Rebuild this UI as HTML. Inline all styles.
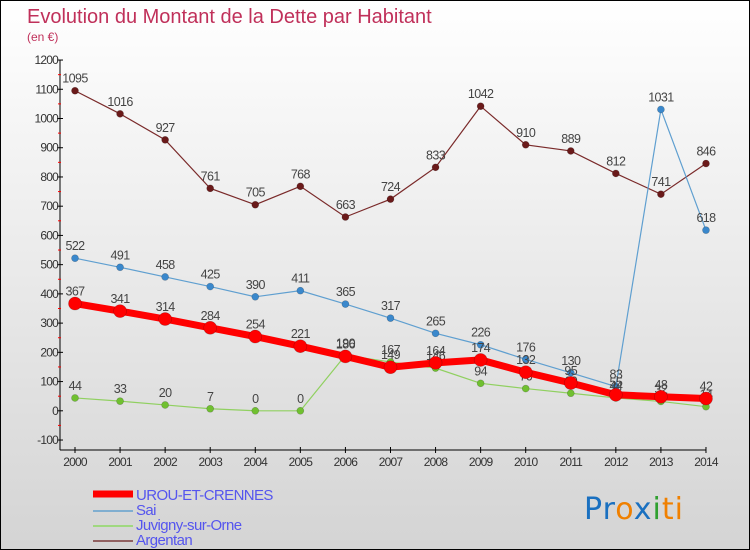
<!DOCTYPE html>
<html><head><meta charset="utf-8"><style>
body{margin:0}
#c{position:relative;width:748px;height:548px;border:1px solid #000;background:linear-gradient(#fff,#d4d4d4);font-family:"DejaVu Sans","Liberation Sans",sans-serif;overflow:hidden}
</style></head><body>
<div id="c">
<svg id="s" width="748" height="548"></svg>
</div>
<script>
const years=[2000,2001,2002,2003,2004,2005,2006,2007,2008,2009,2010,2011,2012,2013,2014];
const urou=[367,341,314,284,254,221,186,149,164,174,132,95,55,48,42];
const sai=[522,491,458,425,390,411,365,317,265,226,176,130,83,1031,618];
const juvigny=[44,33,20,7,0,0,190,167,146,94,76,60,44,32,14];
const argentan=[1095,1016,927,761,705,768,663,724,833,1042,910,889,812,741,846];
const yTicks=[-100,0,100,200,300,400,500,600,700,800,900,1000,1100,1200];
const NS='http://www.w3.org/2000/svg';
const s=document.getElementById('s');
const X=i=>74+i*45.07;
const Y=v=>409.8-v*0.2923;
function el(t,a,p){const e=document.createElementNS(NS,t);for(const k in a)e.setAttribute(k,a[k]);(p||s).appendChild(e);return e;}
let t=el('text',{x:26,y:22,fill:'#c0305a','font-size':20,'font-family':'Liberation Sans','font-weight':'normal'});t.textContent='Evolution du Montant de la Dette par Habitant';

t=el('text',{x:26,y:40,fill:'#c0305a','font-size':12,'font-family':'Liberation Sans'});t.textContent='(en €)';

let a=el('line',{x1:59,y1:Y(1200),x2:59,y2:449,stroke:'#000'});
a=el('line',{x1:59,y1:449,x2:705,y2:449,stroke:'#000'});
yTicks.forEach(v=>{const y=Y(v);el('line',{x1:56,y1:y,x2:62,y2:y,stroke:'#000'});
 if(v<1200)el('line',{x1:57,y1:Y(v+50),x2:60,y2:Y(v+50),stroke:'#f00'});
 const l=el('text',{x:57,y:y+4,'text-anchor':'end','font-size':12,fill:'#333','letter-spacing':'-0.8','font-family':'Liberation Sans'});l.textContent=v;
 });
years.forEach((yr,i)=>{const x=X(i);el('line',{x1:x,y1:446,x2:x,y2:452,stroke:'#000'});
 const l=el('text',{x:x,y:465,'text-anchor':'middle','font-size':12,fill:'#333','letter-spacing':'-0.8','font-family':'Liberation Sans'});l.textContent=yr;
 });
function series(d,col,w,r,name,dot){
 const p=el('polyline',{points:d.map((v,i)=>X(i)+','+Y(v)).join(' '),fill:'none',stroke:col,'stroke-width':w});
 
 d.forEach((v,i)=>{const c=el('circle',{cx:X(i),cy:Y(v),r:r,fill:dot,stroke:'rgba(0,0,0,0.25)','stroke-width':0.6});
  
  const l=el('text',{x:X(i),y:Y(v)-8,'text-anchor':'middle','font-size':12.5,fill:'#444','letter-spacing':'-0.6','font-family':'Liberation Sans'});l.textContent=v;
  });
}
series(argentan,'#7a2a2a',1.2,3.5,'argentan','#6a1a1a');
series(sai,'#5f9fd0',1.2,3.5,'sai','#3a88cc');
series(juvigny,'#90d060',1.2,3.5,'juvigny','#70c030');
series(urou,'#f00',7,6.5,'urou','#f00');
const lg=[['UROU-ET-CRENNES','#f00',7],['Sai','#80aed0',2],['Juvigny-sur-Orne','#a0d880',2],['Argentan','#906060',2]];
lg.forEach((e,i)=>{const y=493+i*15;
 const g=el('g',{});
 el('line',{x1:92,y1:y+(i?2:0),x2:132,y2:y+(i?2:0),stroke:e[1],'stroke-width':e[2]},g);
 const l=el('text',{x:135,y:y+6,'font-size':15,fill:'#5555ee','letter-spacing':'-0.6','font-family':'Liberation Sans'},g);l.textContent=e[0];});
const lo=el('text',{x:583,y:518,'font-size':30,'font-family':'DejaVu Sans','letter-spacing':'1'});
[['P','#1a70c0'],['r','#1a70c0'],['o','#f08000'],['x','#1a70c0'],['i','#30a030'],['t','#f08000'],['i','#f08000']].forEach(c=>{const sp=el('tspan',{fill:c[1]},lo);sp.textContent=c[0];});
</script>
</body></html>
